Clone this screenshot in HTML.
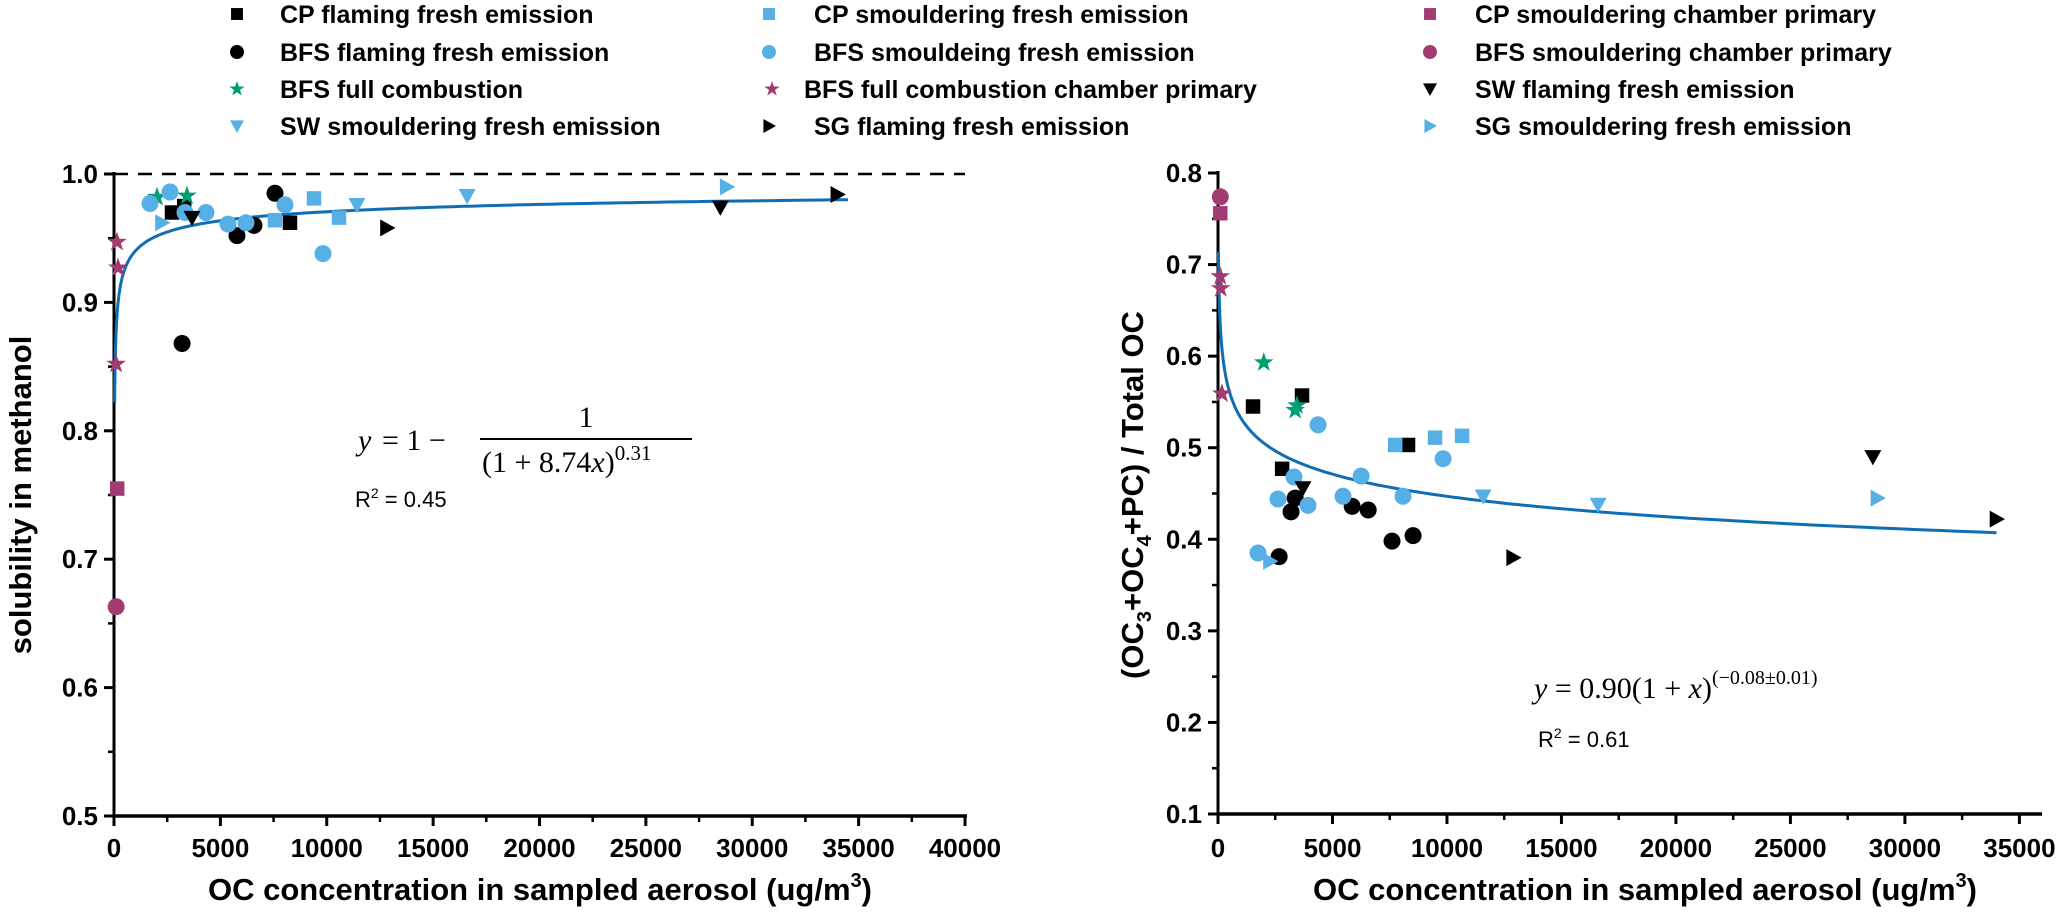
<!DOCTYPE html>
<html><head><meta charset="utf-8"><style>
html,body{margin:0;padding:0;background:#fff;}
svg{display:block;font-family:"Liberation Sans",sans-serif;}
.t{font-weight:bold;fill:#000;}
</style></head><body>
<svg id="fig" width="2067" height="912" viewBox="0 0 2067 912" xmlns="http://www.w3.org/2000/svg">
<g id="legend"></g>
<g id="left"></g>
<g id="right"></g>
<text class="t" font-size="31" text-anchor="middle" transform="translate(31,495) rotate(-90)">solubility in methanol</text>
<text class="t" font-size="31" text-anchor="middle" x="540" y="900">OC concentration in sampled aerosol (ug/m<tspan font-size="20" dy="-13">3</tspan><tspan dy="13">)</tspan></text>
<text class="t" font-size="31" text-anchor="middle" transform="translate(1143,495) rotate(-90)">(OC<tspan font-size="20" dy="8">3</tspan><tspan dy="-8">+OC</tspan><tspan font-size="20" dy="8">4</tspan><tspan dy="-8">+PC) / Total OC</tspan></text>
<text class="t" font-size="31" text-anchor="middle" x="1645" y="900">OC concentration in sampled aerosol (ug/m<tspan font-size="20" dy="-13">3</tspan><tspan dy="13">)</tspan></text>
<g font-family="Liberation Serif,serif" font-size="30">
<text x="358" y="450" font-style="italic">y</text><text x="382" y="450">= 1 −</text>
<text x="586" y="427" text-anchor="middle">1</text>
<line x1="480" y1="439" x2="692" y2="439" stroke="#000" stroke-width="2"/>
<text x="482" y="472">(1 + 8.74<tspan font-style="italic">x</tspan>)<tspan font-size="21" dy="-12">0.31</tspan></text>
</g>
<text x="355" y="507" font-size="22">R<tspan font-size="14" dy="-9">2</tspan><tspan dy="9"> = 0.45</tspan></text>
<text x="1534" y="698" font-family="Liberation Serif,serif" font-size="30"><tspan font-style="italic">y</tspan> = 0.90(1 + <tspan font-style="italic">x</tspan>)<tspan font-size="20" dy="-14">(−0.08±0.01)</tspan></text>
<text x="1538" y="747" font-size="22">R<tspan font-size="14" dy="-9">2</tspan><tspan dy="9"> = 0.61</tspan></text>
</svg>
<script>
// ---- data (left chart: solubility) ----
const L_cpFlamX=[2726,8272,3300]; const L_cpFlamY=[0.970,0.962,0.975];
const L_bfsFlamX=[7567,5781,6580,3200]; const L_bfsFlamY=[0.985,0.952,0.960,0.868];
const L_bfsFullX=[2021,3431]; const L_bfsFullY=[0.982,0.983];
const L_swSmX=[11421,16600]; const L_swSmY=[0.976,0.983];
const L_cpSmX=[9400,10575,7567]; const L_cpSmY=[0.981,0.966,0.964];
const L_bfsSmX=[1692,2632,3337,4324,5358,6204,8037,9823]; const L_bfsSmY=[0.977,0.986,0.970,0.970,0.961,0.962,0.976,0.938];
const L_bfsFullChX=[141,188,100]; const L_bfsFullChY=[0.947,0.927,0.852];
const L_sgFlamX=[12831,34000]; const L_sgFlamY=[0.958,0.984];
const L_cpSmChX=[150]; const L_cpSmChY=[0.755];
const L_bfsSmChX=[100]; const L_bfsSmChY=[0.663];
const L_swFlamX=[3666,28500]; const L_swFlamY=[0.966,0.974];
const L_sgSmX=[2256,28800]; const L_sgSmY=[0.962,0.990];
const L_xTicks=[0,5000,10000,15000,20000,25000,30000,35000,40000];
const L_yTicks=[0.5,0.6,0.7,0.8,0.9,1.0];
const L_fitA=8.74, L_fitB=0.31;
// ---- data (right chart) ----
const R_cpFlamX=[1530,3670,2800,8300]; const R_cpFlamY=[0.545,0.557,0.477,0.503];
const R_bfsFlamX=[3370,3190,5860,6560,7600,8520,2670]; const R_bfsFlamY=[0.445,0.430,0.436,0.432,0.398,0.404,0.381];
const R_bfsFullX=[2000,3370,3450]; const R_bfsFullY=[0.593,0.541,0.546];
const R_swSmX=[11580,16600]; const R_swSmY=[0.447,0.438];
const R_cpSmX=[7740,9480,10660]; const R_cpSmY=[0.503,0.511,0.513];
const R_bfsSmX=[4370,3320,2620,3930,5460,6250,8080,9830,1750]; const R_bfsSmY=[0.525,0.468,0.444,0.437,0.447,0.469,0.447,0.488,0.385];
const R_bfsFullChX=[170,100,120]; const R_bfsFullChY=[0.559,0.687,0.674];
const R_sgFlamX=[12890,34000]; const R_sgFlamY=[0.380,0.422];
const R_cpSmChX=[100]; const R_cpSmChY=[0.756];
const R_bfsSmChX=[100]; const R_bfsSmChY=[0.774];
const R_swFlamX=[3710,28600]; const R_swFlamY=[0.456,0.490];
const R_sgSmX=[2270,28800]; const R_sgSmY=[0.376,0.445];
const R_xTicks=[0,5000,10000,15000,20000,25000,30000,35000];
const R_yTicks=[0.1,0.2,0.3,0.4,0.5,0.6,0.7,0.8];
const R_fitA=0.90, R_fitB=-0.076;

const NS="http://www.w3.org/2000/svg";
const BLACK="#000", BLUE="#56b0e6", GREEN="#009e73", PURP="#a33b73", CURVE="#0f6db3";
function mk(tag,attrs,parent){const e=document.createElementNS(NS,tag);for(const k in attrs)e.setAttribute(k,attrs[k]);parent.appendChild(e);return e;}
function marker(g,shape,color,cx,cy,s){
  let e;
  if(shape==="sq") e=mk("rect",{x:cx-s*0.85,y:cy-s*0.85,width:s*1.7,height:s*1.7,fill:color},g);
  else if(shape==="ci") e=mk("circle",{cx:cx,cy:cy,r:s,fill:color},g);
  else if(shape==="dn") e=mk("polygon",{points:`${cx-s},${cy-s*0.8} ${cx+s},${cy-s*0.8} ${cx},${cy+s}`,fill:color},g);
  else if(shape==="rt") e=mk("polygon",{points:`${cx-s*0.8},${cy-s} ${cx-s*0.8},${cy+s} ${cx+s},${cy}`,fill:color},g);
  else { let p=[];for(let i=0;i<10;i++){const r=i%2?s*0.45:s*1.15;const a=-Math.PI/2+i*Math.PI/5;p.push((cx+r*Math.cos(a)).toFixed(1)+","+(cy+r*Math.sin(a)).toFixed(1));}
    e=mk("polygon",{points:p.join(" "),fill:color},g);}
  return e;
}
const series=[
 ["cp-flaming","sq",BLACK,"CP flaming fresh emission",L_cpFlamX,L_cpFlamY,R_cpFlamX,R_cpFlamY],
 ["bfs-flaming","ci",BLACK,"BFS flaming fresh emission",L_bfsFlamX,L_bfsFlamY,R_bfsFlamX,R_bfsFlamY],
 ["bfs-full","st",GREEN,"BFS full combustion",L_bfsFullX,L_bfsFullY,R_bfsFullX,R_bfsFullY],
 ["sw-smouldering","dn",BLUE,"SW smouldering fresh emission",L_swSmX,L_swSmY,R_swSmX,R_swSmY],
 ["cp-smouldering","sq",BLUE,"CP smouldering fresh emission",L_cpSmX,L_cpSmY,R_cpSmX,R_cpSmY],
 ["bfs-smouldering","ci",BLUE,"BFS smouldeing fresh emission",L_bfsSmX,L_bfsSmY,R_bfsSmX,R_bfsSmY],
 ["bfs-full-chamber","st",PURP,"BFS full combustion chamber primary",L_bfsFullChX,L_bfsFullChY,R_bfsFullChX,R_bfsFullChY],
 ["sg-flaming","rt",BLACK,"SG flaming fresh emission",L_sgFlamX,L_sgFlamY,R_sgFlamX,R_sgFlamY],
 ["cp-smouldering-chamber","sq",PURP,"CP smouldering chamber primary",L_cpSmChX,L_cpSmChY,R_cpSmChX,R_cpSmChY],
 ["bfs-smouldering-chamber","ci",PURP,"BFS smouldering chamber primary",L_bfsSmChX,L_bfsSmChY,R_bfsSmChX,R_bfsSmChY],
 ["sw-flaming","dn",BLACK,"SW flaming fresh emission",L_swFlamX,L_swFlamY,R_swFlamX,R_swFlamY],
 ["sg-smouldering","rt",BLUE,"SG smouldering fresh emission",L_sgSmX,L_sgSmY,R_sgSmX,R_sgSmY]
];
// legend
const lg=document.getElementById("legend");
const colM=[237,769,1430], colT=[280,814,1475], rowY=[14,52,89,126];
series.forEach((s,i)=>{
  const c=Math.floor(i/4), r=i%4;
  const it=mk("g",{},lg);
  
  
  const m=marker(it,s[1],s[2],colM[c]+(c===1&&s[1]==="st"?3:0),rowY[r],7);
  const t=mk("text",{x:colT[c]-(c===1&&s[1]==="st"?10:0),y:rowY[r]+9,"font-size":25,class:"t"},it);
  t.textContent=s[3];
});
function axes(g,name,x0,x1,xmin,xmax,y0,y1,ymin,ymax,xt,yt,xfmt,yfmt,xminor,yminor){
  const sx=v=>x0+(v-xmin)/(xmax-xmin)*(x1-x0);
  const sy=v=>y0-(v-ymin)/(ymax-ymin)*(y0-y1);
  const ax=mk("g",{},g);
  mk("line",{x1:x0,y1:y0,x2:x1+2,y2:y0,stroke:"#000","stroke-width":3.5},ax);
  mk("line",{x1:x0,y1:y0+1,x2:x0,y2:y1-2,stroke:"#000","stroke-width":3},ax);
  xt.forEach(v=>{const x=sx(v);mk("line",{x1:x,y1:y0,x2:x,y2:y0+10,stroke:"#000","stroke-width":3},ax);
    const t=mk("text",{x:x,y:857,"text-anchor":"middle","font-size":26,class:"t"},ax);t.textContent=xfmt(v);});
  for(let v=xmin+xminor;v<xmax;v+=xminor*2){const x=sx(v);mk("line",{x1:x,y1:y0,x2:x,y2:y0+6,stroke:"#000","stroke-width":2.5},ax);}
  yt.forEach(v=>{const y=sy(v);mk("line",{x1:x0-10,y1:y,x2:x0,y2:y,stroke:"#000","stroke-width":3},ax);
    const t=mk("text",{x:x0-16,y:y+9,"text-anchor":"end","font-size":26,class:"t"},ax);t.textContent=yfmt(v);});
  for(let v=ymin+yminor;v<ymax;v+=yminor*2){const y=sy(v);mk("line",{x1:x0-6,y1:y,x2:x0,y2:y,stroke:"#000","stroke-width":2.5},ax);}
  return [sx,sy];
}
function drawChart(gid,side,sx,sy,fit,fx0,fx1){
  const g=document.getElementById(gid);
  let pts=[];const N=400;
  for(let i=0;i<=N;i++){const x=fx0*Math.pow(fx1/fx0,i/N);pts.push(sx(x).toFixed(1)+","+sy(fit(x)).toFixed(1));}
  const c=mk("polyline",{points:pts.join(" "),fill:"none",stroke:CURVE,"stroke-width":3},g);
  
  
  series.forEach(s=>{
    const xs=side==="left"?s[4]:s[6], ys=side==="left"?s[5]:s[7];
    const sg=mk("g",{},g);
    
    
    xs.forEach((x,i)=>{const m=marker(sg,s[1],s[2],sx(x),sy(ys[i]),s[1]==="ci"?8.5:(s[1]==="st"?9:8.5));
      
      });
  });
}
const Lg=document.getElementById("left");
const [lsx,lsy]=axes(Lg,"left",114,965,0,40000,816,174,0.5,1.0,L_xTicks,L_yTicks,v=>String(v),v=>v.toFixed(1),2500,0.05);
const dash=mk("line",{x1:lsx(0),y1:lsy(1.0),x2:lsx(40000),y2:lsy(1.0),stroke:"#000","stroke-width":2.5,"stroke-dasharray":"14,10"},Lg);


drawChart("left","left",lsx,lsy,x=>1-1/Math.pow(1+L_fitA*x,L_fitB),30,34500);
const Rg=document.getElementById("right");
const [rsx,rsy]=axes(Rg,"right",1218,2040,0,35900,814,173,0.1,0.8,R_xTicks,R_yTicks,v=>String(v),v=>v.toFixed(1),2500,0.05);
drawChart("right","right",rsx,rsy,x=>R_fitA*Math.pow(1+x,R_fitB),20,34000);
</script>
</body></html>
